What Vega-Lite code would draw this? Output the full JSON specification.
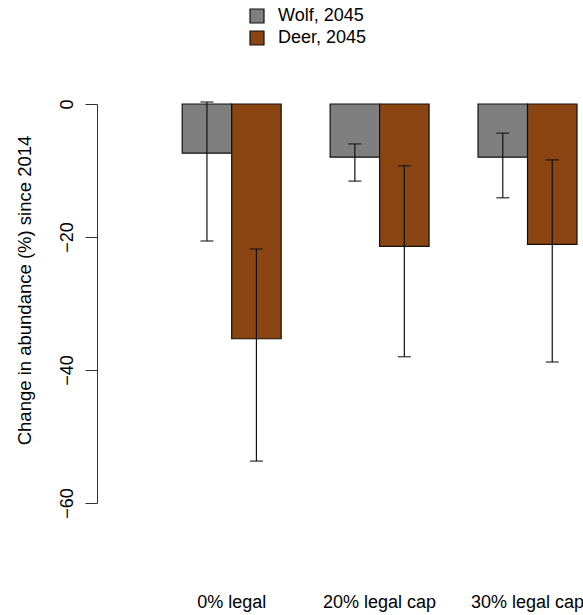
{
  "$schema": "https://vega.github.io/schema/vega-lite/v6.json",
  "autosize": {"type": "none"},
  "width": 480,
  "height": 399,
  "padding": {"left": 97, "top": 104, "right": 6, "bottom": 112},
  "background": "white",
  "config": {
    "view": {"stroke": null},
    "font": "Liberation Sans",
    "axis": {"labelFont": "Liberation Sans", "titleFont": "Liberation Sans", "labelColor": "#000", "titleColor": "#000"}
  },
  "data": {
    "values": [
      {"scenario": "0% legal", "series": "Wolf, 2045", "value": -7.4, "lo": -20.6, "hi": 0.3},
      {"scenario": "0% legal", "series": "Deer, 2045", "value": -35.3, "lo": -53.7, "hi": -21.8},
      {"scenario": "20% legal cap", "series": "Wolf, 2045", "value": -8.0, "lo": -11.6, "hi": -6.0},
      {"scenario": "20% legal cap", "series": "Deer, 2045", "value": -21.4, "lo": -38.0, "hi": -9.3},
      {"scenario": "30% legal cap", "series": "Wolf, 2045", "value": -8.0, "lo": -14.1, "hi": -4.4},
      {"scenario": "30% legal cap", "series": "Deer, 2045", "value": -21.1, "lo": -38.8, "hi": -8.4}
    ]
  },
  "encoding": {
    "x": {
      "field": "scenario", "type": "nominal", "sort": null,
      "scale": {"paddingInner": 0.331, "paddingOuter": 0.288, "align": 1},
      "axis": {"title": null, "domain": false, "ticks": false, "labelAngle": 0, "labelFontSize": 18, "labelPadding": 90, "labelBaseline": "top"}
    },
    "xOffset": {
      "field": "series", "type": "nominal", "sort": ["Wolf, 2045", "Deer, 2045"],
      "scale": {"paddingInner": 0, "paddingOuter": 0}
    }
  },
  "layer": [
    {
      "mark": {"type": "bar", "stroke": "#111", "strokeWidth": 1.2},
      "encoding": {
        "y": {
          "field": "value", "type": "quantitative",
          "scale": {"domain": [-60, 0], "nice": false, "zero": false},
          "axis": {
            "title": "Change in abundance (%) since 2014", "titleFontSize": 18.5, "titleFontWeight": "normal", "titlePadding": 24, "titleY": 186,
            "values": [0, -20, -40, -60], "grid": false,
            "domainColor": "#333", "tickColor": "#333", "tickSize": 12,
            "labelAngle": -90, "labelAlign": "center", "labelBaseline": "bottom", "labelFontSize": 18, "labelPadding": 9
          }
        },
        "color": {
          "field": "series", "type": "nominal",
          "scale": {"domain": ["Wolf, 2045", "Deer, 2045"], "range": ["#7f7f7f", "#8b4513"]},
          "legend": {
            "title": null, "orient": "none", "legendX": 151, "legendY": -97,
            "symbolType": "square", "symbolSize": 196, "symbolStrokeColor": "#111", "symbolStrokeWidth": 1.2,
            "labelFontSize": 18, "labelColor": "#000", "labelFont": "Liberation Sans", "rowPadding": 2, "labelOffset": 12, "symbolOpacity": 1
          }
        }
      }
    },
    {
      "mark": {"type": "rule", "color": "#111", "strokeWidth": 1.2},
      "encoding": {
        "y": {"field": "lo", "type": "quantitative"},
        "y2": {"field": "hi"}
      }
    },
    {
      "mark": {"type": "tick", "color": "#111", "size": 13, "thickness": 1.5, "orient": "horizontal"},
      "encoding": {"y": {"field": "lo", "type": "quantitative"}}
    },
    {
      "mark": {"type": "tick", "color": "#111", "size": 13, "thickness": 1.5, "orient": "horizontal"},
      "encoding": {"y": {"field": "hi", "type": "quantitative"}}
    }
  ]
}
